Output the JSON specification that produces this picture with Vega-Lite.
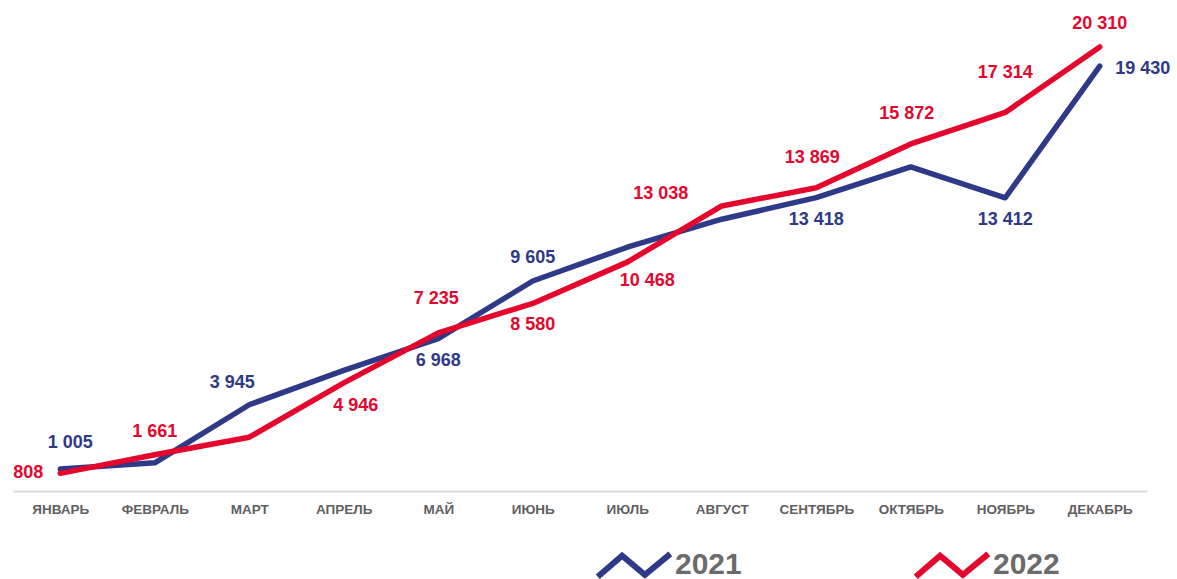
{
  "$schema": "https://vega.github.io/schema/vega-lite/v6.json",
  "autosize": {"type": "none"},
  "padding": {"left": 13, "top": 10, "right": 30, "bottom": 88},
  "width": 1134,
  "height": 481,
  "config": {
    "view": {"stroke": null},
    "font": "Liberation Sans",
    "locale": {"number": {"decimal": ",", "thousands": " ", "grouping": [3], "currency": ["", ""]}}
  },
  "data": {
    "values": [
      {"month": "ЯНВАРЬ", "series": "2021", "value": 1005},
      {"month": "ФЕВРАЛЬ", "series": "2021", "value": 1290},
      {"month": "МАРТ", "series": "2021", "value": 3945},
      {"month": "АПРЕЛЬ", "series": "2021", "value": 5520},
      {"month": "МАЙ", "series": "2021", "value": 6968},
      {"month": "ИЮНЬ", "series": "2021", "value": 9605},
      {"month": "ИЮЛЬ", "series": "2021", "value": 11150},
      {"month": "АВГУСТ", "series": "2021", "value": 12430},
      {"month": "СЕНТЯБРЬ", "series": "2021", "value": 13418},
      {"month": "ОКТЯБРЬ", "series": "2021", "value": 14820},
      {"month": "НОЯБРЬ", "series": "2021", "value": 13412},
      {"month": "ДЕКАБРЬ", "series": "2021", "value": 19430},
      {"month": "ЯНВАРЬ", "series": "2022", "value": 808},
      {"month": "ФЕВРАЛЬ", "series": "2022", "value": 1661},
      {"month": "МАРТ", "series": "2022", "value": 2460},
      {"month": "АПРЕЛЬ", "series": "2022", "value": 4946},
      {"month": "МАЙ", "series": "2022", "value": 7235},
      {"month": "ИЮНЬ", "series": "2022", "value": 8580},
      {"month": "ИЮЛЬ", "series": "2022", "value": 10468},
      {"month": "АВГУСТ", "series": "2022", "value": 13038},
      {"month": "СЕНТЯБРЬ", "series": "2022", "value": 13869},
      {"month": "ОКТЯБРЬ", "series": "2022", "value": 15872},
      {"month": "НОЯБРЬ", "series": "2022", "value": 17314},
      {"month": "ДЕКАБРЬ", "series": "2022", "value": 20310}
    ]
  },
  "encoding": {
    "x": {
      "field": "month", "type": "ordinal",
      "sort": ["ЯНВАРЬ", "ФЕВРАЛЬ", "МАРТ", "АПРЕЛЬ", "МАЙ", "ИЮНЬ", "ИЮЛЬ", "АВГУСТ", "СЕНТЯБРЬ", "ОКТЯБРЬ", "НОЯБРЬ", "ДЕКАБРЬ"],
      "scale": {"type": "point", "padding": 0.5},
      "axis": {
        "title": null, "ticks": false, "labelAngle": 0,
        "domainColor": "#d9d9d9", "domainWidth": 2,
        "labelFont": "Liberation Sans", "labelFontSize": 13.5, "labelFontWeight": "bold",
        "labelColor": "#606060", "labelPadding": 11, "grid": false
      }
    },
    "y": {
      "field": "value", "type": "quantitative",
      "scale": {"domain": [0, 22000], "nice": false, "zero": true},
      "axis": null
    }
  },
  "layer": [
    {
      "mark": {"type": "line", "strokeWidth": 5.5, "strokeJoin": "round", "strokeCap": "round"},
      "encoding": {
        "color": {
          "field": "series", "type": "nominal",
          "scale": {"domain": ["2021", "2022"], "range": ["#2E3A87", "#E4062D"]},
          "legend": {
            "title": null, "orient": "none", "direction": "horizontal",
            "legendX": 584, "legendY": 518, "padding": 0,
            "symbolType": "M-1,0.28 L-0.35,-0.28 L0.32,0.28 L1,-0.28",
            "symbolSize": 4624, "symbolStrokeWidth": 6, "symbolFillColor": "transparent",
            "labelFont": "Liberation Sans", "labelFontSize": 30, "labelFontWeight": "bold",
            "labelColor": "#6b6b6b", "labelOffset": 4, "columnPadding": 164,
            "encode": {"symbols": {"update": {"fillOpacity": {"value": 0}, "fill": {"value": "transparent"}, "strokeCap": {"value": "square"}}}}
          }
        }
      }
    },
    {
      "transform": [{"filter": "(datum.series=='2021' && datum.month=='ИЮНЬ') || (datum.series=='2022' && (datum.month=='ФЕВРАЛЬ' || datum.month=='ДЕКАБРЬ'))"}],
      "mark": {"type": "text", "fontSize": 18, "fontWeight": "bold", "dy": -23, "baseline": "middle"},
      "encoding": {"text": {"field": "value", "format": ",d"}, "color": {"field": "series", "type": "nominal", "legend": null}}
    },
    {
      "transform": [{"filter": "(datum.series=='2021' && (datum.month=='МАЙ' || datum.month=='СЕНТЯБРЬ' || datum.month=='НОЯБРЬ')) || (datum.series=='2022' && datum.month=='ИЮНЬ')"}],
      "mark": {"type": "text", "fontSize": 18, "fontWeight": "bold", "dy": 22, "baseline": "middle"},
      "encoding": {"text": {"field": "value", "format": ",d"}, "color": {"field": "series", "type": "nominal", "legend": null}}
    },
    {
      "transform": [{"filter": "datum.series=='2022' && (datum.month=='СЕНТЯБРЬ' || datum.month=='ОКТЯБРЬ')"}],
      "mark": {"type": "text", "fontSize": 18, "fontWeight": "bold", "dx": -4, "dy": -30, "baseline": "middle"},
      "encoding": {"text": {"field": "value", "format": ",d"}, "color": {"field": "series", "type": "nominal", "legend": null}}
    },
    {
      "transform": [{"filter": "datum.series=='2021' && datum.month=='ЯНВАРЬ'"}],
      "mark": {"type": "text", "fontSize": 18, "fontWeight": "bold", "dx": 10, "dy": -26, "baseline": "middle"},
      "encoding": {"text": {"field": "value", "format": ",d"}, "color": {"field": "series", "type": "nominal", "legend": null}}
    },
    {
      "transform": [{"filter": "datum.series=='2021' && datum.month=='МАРТ'"}],
      "mark": {"type": "text", "fontSize": 18, "fontWeight": "bold", "dx": -17, "dy": -22, "baseline": "middle"},
      "encoding": {"text": {"field": "value", "format": ",d"}, "color": {"field": "series", "type": "nominal", "legend": null}}
    },
    {
      "transform": [{"filter": "datum.series=='2021' && datum.month=='ДЕКАБРЬ'"}],
      "mark": {"type": "text", "fontSize": 18, "fontWeight": "bold", "dx": 43, "dy": 3, "baseline": "middle"},
      "encoding": {"text": {"field": "value", "format": ",d"}, "color": {"field": "series", "type": "nominal", "legend": null}}
    },
    {
      "transform": [{"filter": "datum.series=='2022' && datum.month=='ЯНВАРЬ'"}],
      "mark": {"type": "text", "fontSize": 18, "fontWeight": "bold", "dx": -32, "dy": 0, "baseline": "middle"},
      "encoding": {"text": {"field": "value", "format": ",d"}, "color": {"field": "series", "type": "nominal", "legend": null}}
    },
    {
      "transform": [{"filter": "datum.series=='2022' && datum.month=='АПРЕЛЬ'"}],
      "mark": {"type": "text", "fontSize": 18, "fontWeight": "bold", "dx": 12, "dy": 23, "baseline": "middle"},
      "encoding": {"text": {"field": "value", "format": ",d"}, "color": {"field": "series", "type": "nominal", "legend": null}}
    },
    {
      "transform": [{"filter": "datum.series=='2022' && datum.month=='МАЙ'"}],
      "mark": {"type": "text", "fontSize": 18, "fontWeight": "bold", "dx": -2, "dy": -34, "baseline": "middle"},
      "encoding": {"text": {"field": "value", "format": ",d"}, "color": {"field": "series", "type": "nominal", "legend": null}}
    },
    {
      "transform": [{"filter": "datum.series=='2022' && datum.month=='ИЮЛЬ'"}],
      "mark": {"type": "text", "fontSize": 18, "fontWeight": "bold", "dx": 20, "dy": 19, "baseline": "middle"},
      "encoding": {"text": {"field": "value", "format": ",d"}, "color": {"field": "series", "type": "nominal", "legend": null}}
    },
    {
      "transform": [{"filter": "datum.series=='2022' && datum.month=='АВГУСТ'"}],
      "mark": {"type": "text", "fontSize": 18, "fontWeight": "bold", "dx": -61, "dy": -12, "baseline": "middle"},
      "encoding": {"text": {"field": "value", "format": ",d"}, "color": {"field": "series", "type": "nominal", "legend": null}}
    },
    {
      "transform": [{"filter": "datum.series=='2022' && datum.month=='НОЯБРЬ'"}],
      "mark": {"type": "text", "fontSize": 18, "fontWeight": "bold", "dx": 0, "dy": -39, "baseline": "middle"},
      "encoding": {"text": {"field": "value", "format": ",d"}, "color": {"field": "series", "type": "nominal", "legend": null}}
    }
  ]
}
